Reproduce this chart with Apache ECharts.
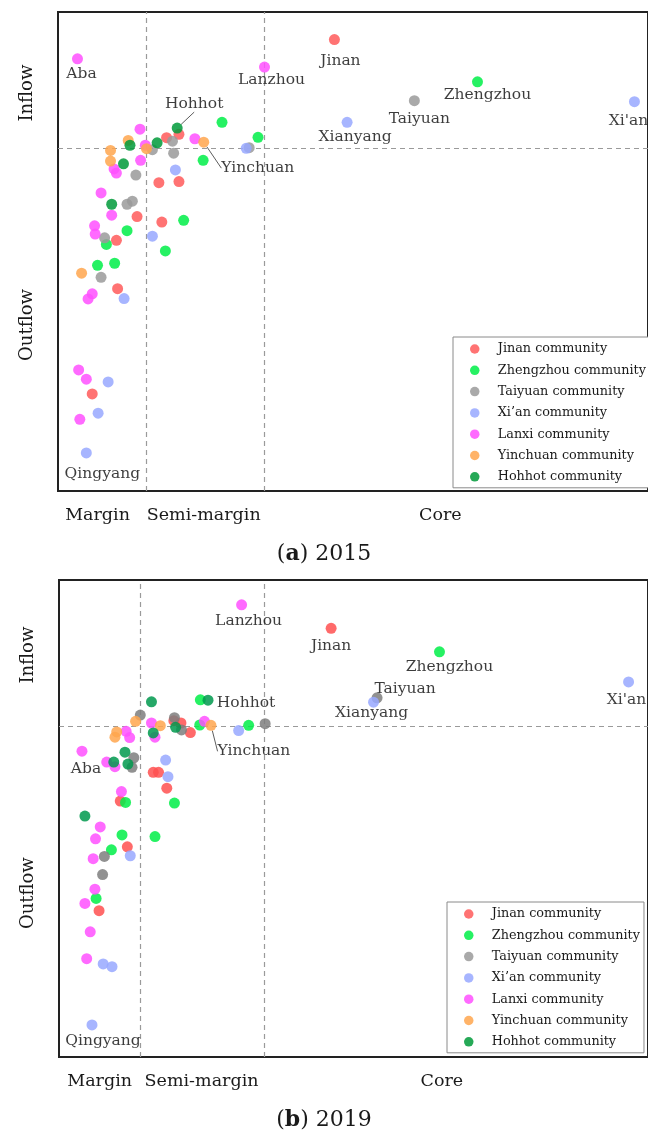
<!DOCTYPE html>
<html><head><meta charset="utf-8">
<script src="https://cdn.jsdelivr.net/npm/echarts@6/dist/echarts.min.js"></script>
<style>html,body{margin:0;padding:0;background:#fff}#c{width:648px;height:1138px}</style>
</head><body><div id="c"></div>
<script>
const communities = ['Jinan community','Zhengzhou community','Taiyuan community','Xi\u2019an community','Lanxi community','Yinchuan community','Hohhot community'];
const regionLabels = ['Margin','Semi-margin','Core'];
const flowLabels = ['Inflow','Outflow'];

// ---- 2015 (x: centrality score, y: net flow) ----
const jinan2015 = [[46.85,31.6,'Jinan'],[18.4,3.0],[20.5,4.0],[17.1,-10.1],[20.5,-9.8],[13.4,-20.0],[17.6,-21.6],[9.9,-26.9],[10.1,-41.0],[5.8,-71.7]];
const zhengzhou2015 = [[71.1,19.3,'Zhengzhou'],[27.8,7.5],[33.9,3.1],[24.6,-3.6],[21.3,-21.1],[11.7,-24.1],[8.2,-28.1],[18.2,-30.0],[6.7,-34.2],[9.6,-33.6]];
const taiyuan2015 = [[60.4,13.8,'Taiyuan'],[16.0,-0.5],[19.4,2.0],[19.6,-1.5],[32.4,0.1],[13.2,-7.9],[11.7,-16.4],[12.6,-15.5],[7.9,-26.2],[7.3,-37.7]];
const xian2015 = [[97.7,13.5,"Xi'an"],[49.0,7.5,'Xianyang'],[31.9,-0.1],[19.9,-6.4],[16.0,-25.7],[11.2,-43.9],[8.5,-68.2],[6.8,-77.3],[4.8,-88.9,'Qingyang']];
const lanxi2015 = [[3.3,26.0,'Aba'],[35.0,23.6,'Lanzhou'],[13.9,5.5],[14.8,0.8],[23.2,2.7],[14.0,-3.6],[9.5,-6.1],[9.9,-7.3],[7.3,-13.1],[9.1,-19.6],[6.2,-22.7],[6.3,-25.1],[5.8,-42.5],[5.1,-44.0],[3.5,-64.7],[4.8,-67.4],[3.7,-79.1]];
const yinchuan2015 = [[24.7,1.7,'Yinchuan'],[11.9,2.2],[15.0,-0.2],[8.9,-0.7],[8.9,-3.8],[4.0,-36.5]];
const hohhot2015 = [[20.2,5.8,'Hohhot'],[12.2,0.8],[16.8,1.5],[11.1,-4.6],[9.1,-16.4]];
const thresholds2015 = [15, 35];

// ---- 2019 ----
const jinan2019 = [[46.2,29.5,'Jinan'],[19.5,1.6],[20.7,0.9],[22.3,-2.0],[16.0,-14.0],[16.9,-14.0],[18.3,-18.8],[10.4,-22.7],[11.6,-36.5],[6.8,-55.8]];
const zhengzhou2019 = [[64.6,22.4,'Zhengzhou'],[24.0,7.9],[23.9,0.3],[32.2,0.2],[11.3,-23.1],[19.6,-23.3],[10.7,-32.9],[16.3,-33.4],[8.9,-37.4],[6.3,-52.1]];
const taiyuan2019 = [[54.0,8.5,'Taiyuan'],[13.8,3.3],[19.6,2.5],[20.8,-1.2],[35.0,0.7],[12.7,-9.6],[12.4,-12.5],[7.7,-39.4],[7.4,-44.9]];
const xian2019 = [[96.7,13.3,"Xi'an"],[53.4,7.2,'Xianyang'],[30.5,-1.4],[18.1,-10.3],[18.5,-15.3],[12.1,-39.2],[7.5,-71.9],[9.0,-72.7],[5.6,-90.3,'Qingyang']];
const lanxi2019 = [[31.0,36.6,'Lanzhou'],[15.7,0.9],[24.7,1.4],[11.4,-1.6],[12.0,-3.5],[16.3,-3.4],[3.9,-7.6,'Aba'],[8.1,-10.9],[9.5,-12.3],[10.6,-19.8],[7.0,-30.5],[6.2,-34.1],[5.8,-40.1],[6.1,-49.3],[4.4,-53.6],[5.3,-62.2],[4.7,-70.3]];
const yinchuan2019 = [[25.8,0.2,'Yinchuan'],[13.0,1.4],[17.2,0.1],[9.8,-1.8],[9.5,-3.4]];
const hohhot2019 = [[25.3,7.8,'Hohhot'],[15.7,7.3],[19.8,-0.4],[16.0,-2.1],[11.2,-7.9],[9.3,-10.9],[11.7,-11.5],[4.4,-27.2]];
const thresholds2019 = [13.8, 34.85];

// ---- styling (not data) ----
const colors2015 = ['#ff5a5a','#00ee48','#9a9a9a','#98a8ff','#ff50ff','#ffa64d','#009a3a'];
const colors2019 = ['#ff5050','#00ee48','#7e7e7e','#98a8ff','#ff50ff','#ffa64d','#00994d'];
const labelOffsets2015 = {Aba:[4,15],Lanzhou:[7,13],Jinan:[6,21],Zhengzhou:[10,13],Taiyuan:[5,18],Xianyang:[8,15],"Xi'an":[-6,19],Qingyang:[16,21],Hohhot:[17,-24],Yinchuan:[54,26]};
const labelOffsets2019 = {Aba:[4,18],Lanzhou:[7,16],Jinan:[0,18],Zhengzhou:[10,15],Taiyuan:[28,-9],Xianyang:[-2,11],"Xi'an":[-2,18],Qingyang:[11,16],Hohhot:[38,3],Yinchuan:[43,26]};
const leaders = ['Hohhot','Yinchuan'];
const leaders2019 = ['Yinchuan'];
const SERIF = 'DejaVu Serif';
const TXT = '#1a1a1a';

function buildSeries(sets, colors, offsets, leaderNames, axisIdx) {
  return sets.map((arr, i) => ({
    type: 'scatter',
    name: communities[i],
    xAxisIndex: axisIdx, yAxisIndex: axisIdx,
    symbolSize: 11,
    itemStyle: {color: colors[i], opacity: 0.85},
    emphasis: {disabled: true},
    data: arr.map(p => {
      const d = {value: [p[0], p[1]]};
      if (p[2]) {
        d.name = p[2];
        d.label = {show: true, formatter: p[2], position: 'inside', fontFamily: SERIF, fontSize: 15.5, color: TXT};
        if (leaderNames.indexOf(p[2]) >= 0) d.labelLine = {show: true, lineStyle: {color: '#333', width: 0.8}};
      }
      return d;
    }),
    labelLayout: function (params) {
      const o = offsets[params.text];
      if (!o) return {};
      return {dx: o[0], dy: o[1]};
    }
  }));
}

const set2015 = [jinan2015, zhengzhou2015, taiyuan2015, xian2015, lanxi2015, yinchuan2015, hohhot2015];
const set2019 = [jinan2019, zhengzhou2019, taiyuan2019, xian2019, lanxi2019, yinchuan2019, hohhot2019];

const s2015 = buildSeries(set2015, colors2015, labelOffsets2015, leaders, 0);
const s2019 = buildSeries(set2019, colors2019, labelOffsets2019, leaders2019, 1);

function refLines(th) {
  return {
    silent: true, symbol: 'none', z: 1,
    label: {show: false},
    lineStyle: {color: '#9a9a9a', type: [5, 4], width: 1.2},
    data: [{xAxis: th[0]}, {xAxis: th[1]}, {yAxis: 0}]
  };
}
s2015.unshift({type: 'scatter', data: [], xAxisIndex: 0, yAxisIndex: 0, markLine: refLines(thresholds2015)});
s2019.unshift({type: 'scatter', data: [], xAxisIndex: 1, yAxisIndex: 1, markLine: refLines(thresholds2019)});

function xAxisCfg(idx, vals) {
  return {
    type: 'value', gridIndex: idx, min: 0, max: 100,
    axisLine: {show: false}, axisTick: {show: false}, splitLine: {show: false},
    axisLabel: {customValues: vals, formatter: v => regionLabels[vals.indexOf(v)], fontFamily: SERIF, fontSize: 17.5, color: TXT, margin: 15}
  };
}
function yAxisCfg(idx, max, vals) {
  return {
    type: 'value', gridIndex: idx, min: -100, max: max,
    axisLine: {show: false}, axisTick: {show: false}, splitLine: {show: false},
    axisLabel: {customValues: vals, formatter: v => flowLabels[vals.indexOf(v)], rotate: 90, fontFamily: SERIF, fontSize: 18, color: TXT, margin: 22}
  };
}
function legendCfg(left, top) {
  return {
    orient: 'vertical', left: left, top: top,
    data: communities,
    icon: 'circle', itemWidth: 36, itemHeight: 9.5, itemGap: 7.3,
    padding: [5, 4, 4, 17],
    borderColor: '#8a8a8a', borderWidth: 1, backgroundColor: '#fff',
    textStyle: {fontFamily: SERIF, fontSize: 12.8, color: TXT, lineHeight: 14},
    selectedMode: false
  };
}

const chart = echarts.init(document.getElementById('c'), null, {renderer: 'canvas'});
chart.setOption({
  animation: false,
  backgroundColor: '#fff',
  title: [
    {text: '({b|a}) 2015', left: 'center', top: 538, textStyle: {fontFamily: SERIF, fontSize: 22, fontWeight: 'normal', color: TXT, rich: {b: {fontFamily: SERIF, fontSize: 22, fontWeight: 'bold', color: TXT}}}},
    {text: '({b|b}) 2019', left: 'center', top: 1104, textStyle: {fontFamily: SERIF, fontSize: 22, fontWeight: 'normal', color: TXT, rich: {b: {fontFamily: SERIF, fontSize: 22, fontWeight: 'bold', color: TXT}}}}
  ],
  grid: [
    {left: 58, top: 12, right: -4, height: 479, show: true, borderColor: '#222', borderWidth: 2, backgroundColor: 'transparent'},
    {left: 59, top: 580, right: -5, height: 477, show: true, borderColor: '#222', borderWidth: 2, backgroundColor: 'transparent'}
  ],
  xAxis: [xAxisCfg(0, [6.7, 24.7, 64.8]), xAxisCfg(1, [6.9, 24.2, 65.0])],
  yAxis: [yAxisCfg(0, 39.65, [16.0, -51.6]), yAxisCfg(1, 44.1, [21.4, -50.5])],
  legend: [legendCfg(453, 337), legendCfg(447, 902)],
  series: s2015.concat(s2019)
});
</script>
</body></html>
